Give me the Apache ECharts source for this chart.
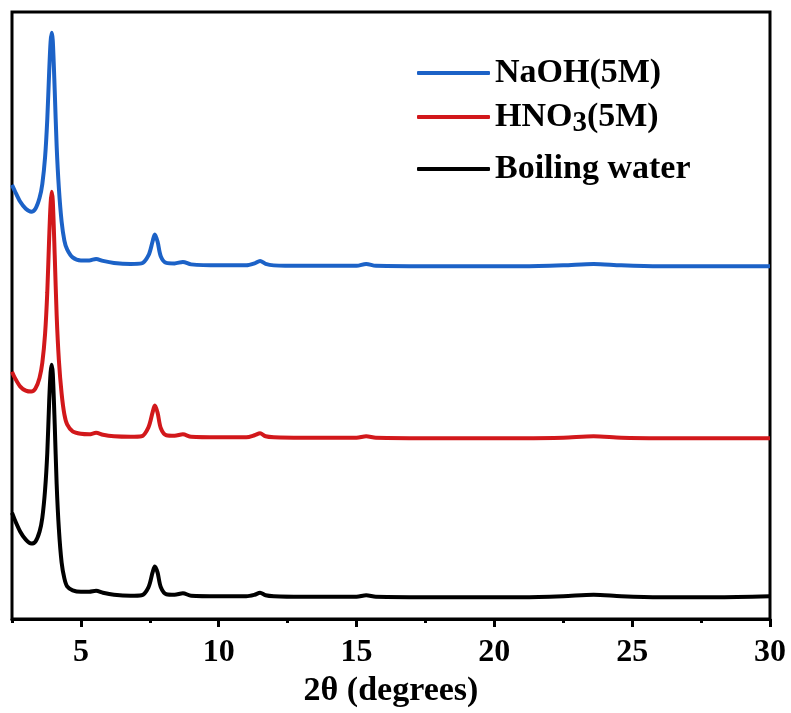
<!DOCTYPE html>
<html>
<head>
<meta charset="utf-8">
<script src="https://cdn.jsdelivr.net/npm/echarts@6/dist/echarts.min.js"></script>
<style>html,body{margin:0;padding:0;background:#fff;}#c{width:791px;height:713px;}</style>
</head>
<body>
<div id="c"></div>
<script>
// 2θ positions (degrees)
var twoTheta = [2.5, 2.6, 2.8, 3.0, 3.2, 3.35, 3.5, 3.6, 3.7, 3.78, 3.85, 3.9, 3.94, 3.98, 4.05, 4.12, 4.2, 4.3, 4.4, 4.5, 4.7, 5.0, 5.3, 5.55, 5.8, 6.2, 6.8, 7.2, 7.45, 7.6, 7.68, 7.78, 7.9, 8.1, 8.4, 8.7, 9.0, 10.0, 11.0, 11.3, 11.5, 11.7, 12.0, 13.0, 15.0, 15.35, 15.7, 18.0, 21.0, 22.5, 23.6, 24.6, 26.0, 28.0, 30.0];
// Offset intensities (arbitrary units)
var naoh = [437, 431, 420, 413, 410, 413, 424, 438, 465, 503, 552, 581, 590, 582, 532, 476, 434, 400, 381, 372, 364, 361, 361, 362.5, 360.5, 358.5, 357.5, 358, 366, 380, 387, 380, 365, 358.5, 358, 359.5, 357, 356, 356, 358, 360.5, 357.5, 356, 355.5, 355.5, 357.5, 355.5, 355, 355, 356, 357.5, 356, 355, 355, 355];
var hno3 = [249, 243, 234, 230, 229, 232, 243, 258, 287, 329, 385, 418, 430, 421, 366, 306, 261, 227, 206, 196, 189, 186.5, 186, 187.5, 185.5, 184, 183.5, 184, 193, 208, 215, 208, 192, 185, 184.5, 186, 183.5, 183, 183, 185, 187, 184, 183, 182.5, 182.5, 184, 182.5, 182, 182, 182.5, 184, 182.5, 182, 182, 182];
var boiling = [107, 100, 88, 80, 76, 78, 88, 102, 130, 167, 220, 248, 256, 247, 196, 136, 91, 57, 41, 33, 29, 27.5, 27.5, 28.5, 26.5, 24.5, 23.5, 24, 32, 47, 53, 47, 32, 25, 24.5, 26, 23.5, 23, 23, 24.5, 26.5, 24, 23, 22.5, 22.5, 24, 22.5, 22, 22, 23, 24.5, 23, 22, 22, 23];
var majorTicks = [5, 10, 15, 20, 25, 30];
var minorTicks = [2.5, 7.5, 12.5, 17.5, 22.5, 27.5];
var seriesNames = ['NaOH(5M)', 'HNO3(5M)', 'Boiling water'];

function pairs(ys) { return twoTheta.map(function (x, i) { return [x, ys[i]]; }); }

var FONT = 'Liberation Serif';
var chart = echarts.init(document.getElementById('c'), null, { renderer: 'canvas' });
function legendAt(name, top, extra) {
  var l = {
    data: [name], left: 417, top: top, padding: 0, orient: 'vertical',
    icon: 'roundRect', itemWidth: 73, itemHeight: 4, selectedMode: false,
    textStyle: { fontFamily: FONT, fontWeight: 'bold', fontSize: 34, color: '#000' }
  };
  if (extra) Object.assign(l, extra);
  return l;
}
var option = {
  animation: false,
  backgroundColor: '#fff',
  grid: { left: 12, right: 21, top: 12, bottom: 90, show: true, borderColor: '#000', borderWidth: 3, backgroundColor: 'transparent' },
  legend: [
    legendAt(seriesNames[0], 56),
    legendAt(seriesNames[1], 100, {
      formatter: function () { return '{n|HNO}{s|3}{n|(5M)}'; },
      textStyle: {
        fontFamily: FONT, fontWeight: 'bold', fontSize: 34, color: '#000',
        rich: {
          n: { fontFamily: FONT, fontWeight: 'bold', fontSize: 34, color: '#000', lineHeight: 36 },
          s: { fontFamily: FONT, fontWeight: 'bold', fontSize: 29, color: '#000', padding: [14, 0, 0, 0] }
        }
      }
    }),
    legendAt(seriesNames[2], 152)
  ],
  xAxis: [{
    type: 'value', min: 2.5, max: 30, interval: 2.5,
    name: '2θ (degrees)', nameLocation: 'middle', nameGap: 52,
    nameTextStyle: { fontFamily: FONT, fontWeight: 'bold', fontSize: 34, color: '#000' },
    axisLine: { show: true, onZero: false, lineStyle: { color: '#000', width: 3 } },
    axisTick: { show: true, inside: false, length: 4, lineStyle: { color: '#000', width: 3 } },
    axisLabel: { customValues: majorTicks, margin: 18, fontFamily: FONT, fontWeight: 'bold', fontSize: 32, color: '#000' },
    splitLine: { show: false }
  }, {
    type: 'value', min: 2.5, max: 30, position: 'bottom', gridIndex: 0,
    axisLine: { show: false, onZero: false },
    axisTick: { show: true, inside: false, length: 8, customValues: majorTicks, lineStyle: { color: '#000', width: 3 } },
    axisLabel: { show: false },
    splitLine: { show: false }
  }],
  yAxis: {
    type: 'value', min: 0, max: 611,
    axisLine: { show: false }, axisTick: { show: false }, axisLabel: { show: false }, splitLine: { show: false }
  },
  series: [
    { name: seriesNames[0], type: 'line', data: pairs(naoh), showSymbol: false, symbol: 'none', smooth: 0.3, color: '#1c62c7', lineStyle: { width: 4, color: '#1c62c7' } },
    { name: seriesNames[1], type: 'line', data: pairs(hno3), showSymbol: false, symbol: 'none', smooth: 0.3, color: '#d2181b', lineStyle: { width: 4, color: '#d2181b' } },
    { name: seriesNames[2], type: 'line', data: pairs(boiling), showSymbol: false, symbol: 'none', smooth: 0.3, color: '#000000', lineStyle: { width: 4, color: '#000000' } }
  ]
};
chart.setOption(option);
</script>
</body>
</html>
